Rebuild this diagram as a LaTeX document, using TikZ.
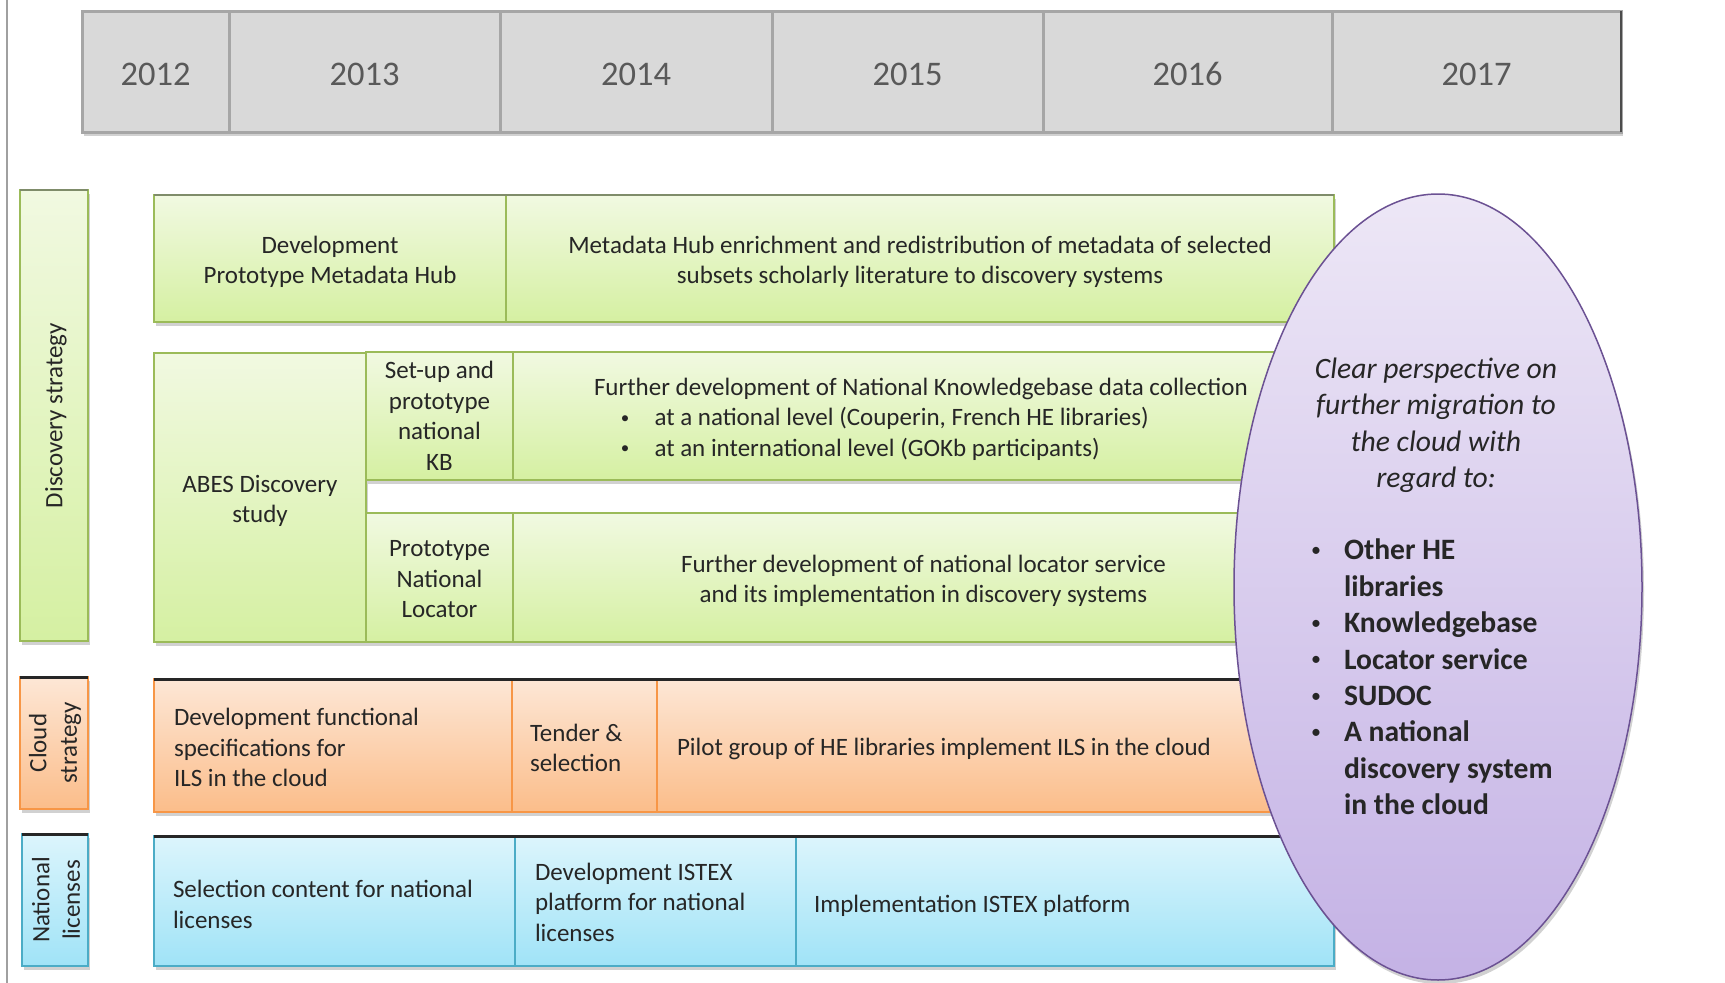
\documentclass[tikz,border=0pt]{standalone}
\usepackage{fontspec}
\setmainfont{Carlito}
\usetikzlibrary{shapes.geometric,shadows}
\definecolor{hdrfill}{HTML}{D9D9D9}
\definecolor{hdrline}{HTML}{A6A6A6}
\definecolor{yeartxt}{HTML}{595959}
\definecolor{txt}{HTML}{262626}
\definecolor{gline}{HTML}{9BBB59}
\definecolor{gtop}{HTML}{F1F9E1}
\definecolor{gbot}{HTML}{D5F0A2}
\definecolor{oline}{HTML}{F79646}
\definecolor{otop}{HTML}{FDE7D6}
\definecolor{obot}{HTML}{FBBD8A}
\definecolor{bline}{HTML}{4BACC6}
\definecolor{btop}{HTML}{DCF5FC}
\definecolor{bbot}{HTML}{A0E3F7}
\definecolor{pline}{HTML}{6B5193}
\definecolor{ptop}{HTML}{EDE7F6}
\definecolor{pbot}{HTML}{C4B2E5}
\definecolor{vline}{HTML}{A0A0A0}
\definecolor{darkedge}{HTML}{262626}
\definecolor{grayedge}{HTML}{7F8C6A}
\newcommand\bodyfs{\fontsize{25}{30.5}\selectfont}
\newcommand\yearfs{\fontsize{34.5}{40}\selectfont}
\newcommand\ellfs{\fontsize{29.6}{36.4}\selectfont}
\newcommand\smallbul[2]{\raisebox{#2}{\fontsize{#1}{#1}\selectfont\mdseries\textbullet}}
\newcommand\kbbul{\hspace*{26.8pt}\makebox[33.7pt][l]{\smallbul{17}{2.8pt}}}
\newcommand\elbul{\makebox[33pt][l]{\smallbul{20}{3.4pt}}}
\newcommand\elind{\hspace*{33pt}}
\begin{document}
\begin{tikzpicture}[x=1pt,y=-1pt,
  every node/.style={inner sep=0pt, outer sep=0pt},
  shadowed/.style={drop shadow={shadow xshift=2pt, shadow yshift=-4pt, opacity=0.18, fill=black}},
  base/.style={anchor=north west, shadowed},
  yearbox/.style={anchor=north west, draw=hdrline, line width=3pt, fill=hdrfill,
    font=\yearfs, text=yeartxt, minimum height=121pt, text height=28pt, text depth=0pt, shadowed},
  gbox/.style={base, draw=gline, line width=1.5pt, top color=gtop, bottom color=gbot},
  obox/.style={base, draw=oline, line width=1.5pt, top color=otop, bottom color=obot},
  bbox/.style={base, draw=bline, line width=1.5pt, top color=btop, bottom color=bbot},
  txtc/.style={font=\bodyfs, text=txt, align=center},
  txtl/.style={font=\bodyfs, text=txt, align=left, anchor=west},
  toplinedark/.style={draw=darkedge, line width=3pt},
  toplinegray/.style={draw=grayedge, line width=2.2pt},
  sidelabel/.style={rotate=90, font=\bodyfs, text=txt, align=center},
  ellfill/.style={ellipse, draw=pline, line width=1.5pt, top color=ptop, bottom color=pbot, shadowed}
]
\useasboundingbox (0,0) rectangle (1725,983);
% left vertical rule
\coordinate (vtop) at (7,0);
\coordinate (vbot) at (7,983);
\draw[vline, line width=1.5pt] (vtop) -- (vbot);

% year header
\node[yearbox, minimum width=147pt] (y12) at (82,11) {2012};
\node[yearbox, minimum width=271pt] (y13) at (229,11) {2013};
\node[yearbox, minimum width=272pt] (y14) at (500,11) {2014};
\node[yearbox, minimum width=271pt] (y15) at (772,11) {2015};
\node[yearbox, minimum width=289pt] (y16) at (1043,11) {2016};
\node[yearbox, minimum width=289pt] (y17) at (1332,11) {2017};
\draw[line width=2pt, black!70] (y17.north east) -- (y17.south east);

% side labels
\node[gbox, minimum width=68pt, minimum height=451pt] (dsbox) at (20,190) {};
\node[sidelabel] (dslbl) at ([xshift=2pt]dsbox.center) {Discovery strategy};
\node[obox, minimum width=68pt, minimum height=132pt] (csbox) at (20,677) {};
\node[sidelabel] (cslbl) at ([xshift=1pt]csbox.center) {Cloud\\strategy};
\node[bbox, minimum width=66pt, minimum height=132pt] (nlbox) at (22,834) {};
\node[sidelabel] (nllbl) at ([xshift=1pt]nlbox.center) {National\\licenses};

% row 1
\node[gbox, minimum width=352pt, minimum height=127pt] (r1a) at (154,195) {};
\node[txtc] (r1at) at ([yshift=-3.3pt]r1a.center) {Development\\Prototype Metadata Hub};
\node[gbox, minimum width=828pt, minimum height=127pt] (r1b) at (506,195) {};
\node[txtc] (r1bt) at ([yshift=-3.3pt]r1b.center) {Metadata Hub enrichment and redistribution of metadata of selected\\subsets scholarly literature to discovery systems};

% row 2
\node[gbox, minimum width=212pt, minimum height=289pt] (abes) at (154,353) {};
\node[txtc] (abest) at ([yshift=-3.3pt]abes.center) {ABES Discovery\\study};
\node[gbox, minimum width=147pt, minimum height=128pt] (setup) at (366,352) {};
\node[txtc] (setupt) at (setup.center) {Set-up and\\prototype\\national\\KB};
\node[gbox, minimum width=821pt, minimum height=128pt] (kb) at (513,352) {};
\node[txtl] (kbt) at ([xshift=81pt,yshift=-3.3pt]kb.west) {Further development of National Knowledgebase data collection\\
\kbbul at a national level (Couperin, French HE libraries)\\
\kbbul at an international level (GOKb participants)};
\node[gbox, minimum width=147pt, minimum height=129pt] (ploc) at (366,513) {};
\node[txtc] (ploct) at ([yshift=-2pt]ploc.center) {Prototype\\National\\Locator};
\node[gbox, minimum width=821pt, minimum height=129pt] (loc) at (513,513) {};
\node[txtc] (loct) at ([yshift=-3.5pt]loc.center) {Further development of national locator service\\and its implementation in discovery systems};

% cloud row
\node[obox, minimum width=358pt, minimum height=133pt] (c1) at (154,679) {};
\node[txtl] (c1t) at ([xshift=20pt,yshift=-2.2pt]c1.west) {Development functional\\specifications for\\ILS in the cloud};
\node[obox, minimum width=145pt, minimum height=133pt] (c2) at (512,679) {};
\node[txtl] (c2t) at ([xshift=18pt,yshift=-2.2pt]c2.west) {Tender \&\\selection};
\node[obox, minimum width=677pt, minimum height=133pt] (c3) at (657,679) {};
\node[txtl] (c3t) at ([xshift=20pt,yshift=-3.3pt]c3.west) {Pilot group of HE libraries implement ILS in the cloud};

% national licenses row
\node[bbox, minimum width=361pt, minimum height=130pt] (n1) at (154,836) {};
\node[txtl] (n1t) at ([xshift=19pt,yshift=-3.3pt]n1.west) {Selection content for national\\licenses};
\node[bbox, minimum width=281pt, minimum height=130pt] (n2) at (515,836) {};
\node[txtl] (n2t) at ([xshift=20pt,yshift=-1.1pt]n2.west) {Development ISTEX\\platform for national\\licenses};
\node[bbox, minimum width=538pt, minimum height=130pt] (n3) at (796,836) {};
\node[txtl] (n3t) at ([xshift=18pt,yshift=-4.4pt]n3.west) {Implementation ISTEX platform};

% darker top edges
\draw[toplinegray] (dsbox.north west) -- (dsbox.north east);
\draw[toplinegray] (r1a.north west) -- (r1b.north east);
\draw[toplinedark] (csbox.north west) -- (csbox.north east);
\draw[toplinedark] (c1.north west) -- (c3.north east);
\draw[toplinedark] (nlbox.north west) -- (nlbox.north east);
\draw[toplinedark] (n1.north west) -- (n3.north east);

% ellipse
\node[ellfill, minimum width=408pt, minimum height=786pt] (persp) at (1438,587) {};
\node[font=\ellfs\itshape, text=txt, align=center] (ptext) at (1436,425.2) {Clear perspective on\\further migration to\\the cloud with\\regard to:};
\node[font=\ellfs\bfseries, text=txt, align=left, anchor=west] (plist) at (1311,677) {\elbul Other HE\\\elind libraries\\\elbul Knowledgebase\\\elbul Locator service\\\elbul SUDOC\\\elbul A national\\\elind discovery system\\\elind in the cloud};
\end{tikzpicture}
\end{document}
